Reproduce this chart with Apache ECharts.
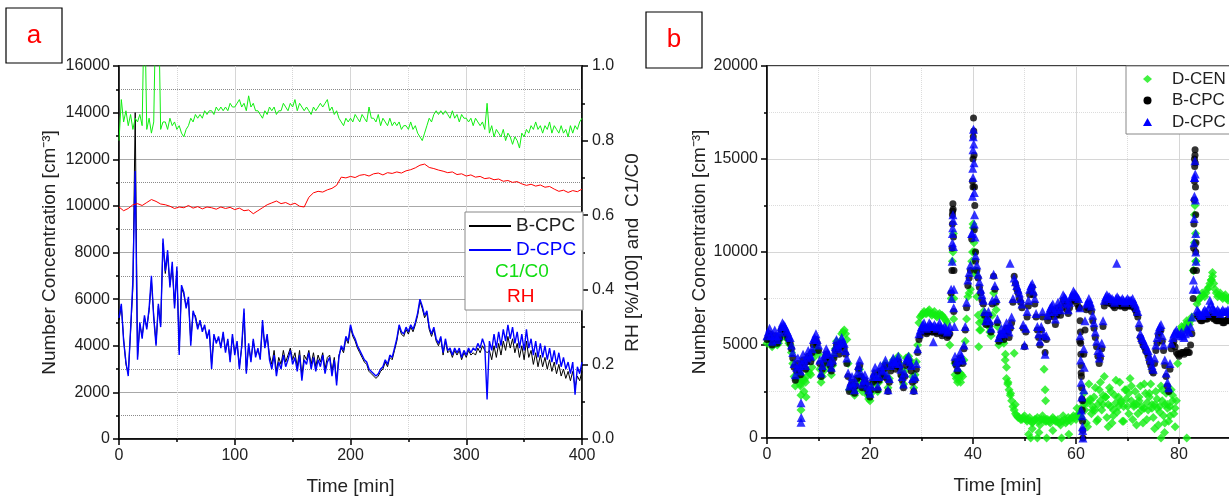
<!DOCTYPE html>
<html><head><meta charset="utf-8">
<script src="https://cdn.jsdelivr.net/npm/echarts/dist/echarts.min.js"></script>
<style>html,body{margin:0;padding:0;background:#fff}#c{width:1229px;height:499px}</style>
</head><body><div id="c"></div>
<script>
// ---------- Panel a (time step 2 min for CPC & C1/C0, 4 min for RH) ----------
const aStep = 2;
const aRHStep = 4;
const aDCPC = [
 5200,5800,4200,3300,2700,4700,6800,11500,3400,5000,
 4300,5300,4700,5600,7000,5200,4000,5800,4800,8600,
 7200,8100,6500,7600,5600,7400,3600,6600,6300,5600,
 6100,4000,5500,5200,4700,5100,4600,4900,4300,4700,
 3000,4500,4100,4400,3900,4600,3700,4300,3300,4500,
 3600,4200,3000,4000,5600,2800,4100,3300,4300,3500,
 3900,3400,5100,3900,4500,3400,3000,3600,2700,3300,
 3000,3600,3100,3400,3800,3200,3500,2900,3600,2500,
 3400,3200,3700,3000,3500,2900,3400,3100,3600,2800,
 3300,3500,2700,3400,2300,3500,4000,3800,4400,4200,
 4900,4500,4300,4000,3800,3600,3400,3300,3000,2900,
 2800,2700,2800,3000,3100,3400,3200,3600,3500,3900,
 4300,4900,4600,4500,4800,4600,4900,4700,5000,5400,
 6000,5700,5300,5500,4800,4500,4800,4300,4100,4400,
 3700,4300,3800,3900,3600,3900,3700,3900,3500,3800,
 3600,3900,3700,3900,3800,4100,3900,4300,4000,1700,
 4200,3800,4500,3900,4600,4000,4700,4200,4900,4300,
 4800,4100,4600,3900,4500,3800,4700,3900,4300,3600,
 4200,3500,4100,3500,4000,3400,3900,3300,3800,3200,
 3700,3100,3500,3000,3300,2800,3300,1900,3100,2800,
 3300
];
const aBCPC = [
 5100,5700,4300,3200,2800,4600,6500,14000,3500,4900,
 4400,5200,4800,5500,6800,5300,4100,5700,4900,8400,
 7100,7900,6600,7400,5700,7200,3800,6500,6200,5700,
 6000,4200,5400,5300,4800,5000,4700,4800,4400,4600,
 3200,4400,4200,4300,4000,4500,3800,4200,3400,4400,
 3700,4100,3100,3900,5400,2900,4000,3400,4200,3600,
 3800,3500,4900,4000,4400,3600,3200,3800,2900,3500,
 3200,3800,3300,3600,3900,3400,3700,3100,3800,2700,
 3600,3400,3800,3200,3700,3100,3600,3300,3700,3000,
 3500,3600,2900,3500,2500,3600,3900,3700,4300,4100,
 4800,4400,4200,3900,3700,3500,3300,3200,2900,2800,
 2700,2600,2700,2900,3000,3300,3100,3500,3400,3800,
 4200,4800,4500,4400,4700,4500,4800,4600,4900,5300,
 5900,5600,5200,5400,4700,4400,4700,4200,4000,4300,
 3600,4200,3700,3800,3500,3800,3600,3800,3400,3700,
 3500,3800,3600,3700,3600,3900,3700,4000,3800,3700,
 3800,3400,4000,3500,4100,3600,4200,3800,4400,3900,
 4300,3700,4100,3500,4000,3400,4200,3500,3800,3200,
 3700,3100,3600,3100,3500,3000,3400,2900,3300,2800,
 3200,2700,3000,2600,2900,2500,2900,2200,2700,2500,
 2900
];
const aC1C0 = [
 0.80,0.91,0.85,0.88,0.84,0.87,0.83,0.86,0.85,0.87,
 0.84,1.20,0.83,0.86,0.82,0.85,1.20,1.20,0.83,0.85,
 0.85,0.83,0.86,0.84,0.85,0.83,0.84,0.82,0.81,0.83,
 0.84,0.86,0.85,0.87,0.86,0.87,0.86,0.88,0.87,0.88,
 0.88,0.87,0.89,0.88,0.89,0.88,0.89,0.88,0.90,0.89,
 0.89,0.90,0.91,0.89,0.90,0.88,0.92,0.89,0.90,0.88,
 0.88,0.87,0.86,0.88,0.87,0.89,0.88,0.89,0.87,0.88,
 0.88,0.90,0.89,0.88,0.90,0.89,0.91,0.88,0.90,0.89,
 0.88,0.89,0.88,0.87,0.89,0.88,0.89,0.90,0.89,0.90,
 0.91,0.88,0.89,0.87,0.88,0.86,0.85,0.84,0.86,0.85,
 0.86,0.85,0.87,0.86,0.85,0.87,0.86,0.85,0.89,0.86,
 0.86,0.85,0.87,0.84,0.86,0.85,0.84,0.86,0.84,0.85,
 0.84,0.85,0.83,0.84,0.84,0.83,0.85,0.83,0.84,0.82,
 0.81,0.80,0.82,0.84,0.86,0.85,0.87,0.88,0.87,0.88,
 0.87,0.88,0.87,0.86,0.88,0.86,0.87,0.85,0.87,0.86,
 0.86,0.85,0.86,0.84,0.86,0.85,0.84,0.85,0.83,0.90,
 0.82,0.84,0.81,0.83,0.82,0.81,0.83,0.80,0.82,0.81,
 0.79,0.81,0.80,0.78,0.82,0.81,0.83,0.82,0.84,0.83,
 0.85,0.83,0.84,0.82,0.84,0.83,0.85,0.82,0.84,0.83,
 0.82,0.84,0.82,0.83,0.81,0.84,0.82,0.84,0.83,0.85,
 0.86
];
const aRH = [
 0.622,0.612,0.618,0.628,0.631,0.626,0.634,0.642,0.637,0.630,
 0.628,0.624,0.618,0.622,0.620,0.626,0.619,0.623,0.617,0.622,
 0.620,0.616,0.622,0.618,0.621,0.615,0.619,0.612,0.614,0.604,
 0.612,0.620,0.628,0.633,0.638,0.631,0.634,0.628,0.632,0.624,
 0.622,0.648,0.660,0.664,0.662,0.668,0.672,0.680,0.702,0.700,
 0.704,0.701,0.707,0.709,0.705,0.711,0.713,0.708,0.714,0.712,
 0.716,0.713,0.719,0.722,0.727,0.734,0.737,0.728,0.725,0.721,
 0.718,0.714,0.716,0.709,0.711,0.705,0.708,0.702,0.704,0.698,
 0.700,0.695,0.697,0.691,0.693,0.688,0.690,0.684,0.680,0.683,
 0.678,0.681,0.675,0.677,0.670,0.664,0.667,0.661,0.666,0.663,
 0.670
];

// ---------- Panel b (main samples every 0.5 min from 0, second layer every 0.5 min from 0.25) ----------
const bStep = 0.5;
const bMidStart = 0.25;
const bDCEN = [
 5100,5400,4900,5300,5000,5300,5800,5600,5300,5000,
 4000,2800,3500,2900,3200,3000,3600,3400,4300,4900,
 4500,3000,3600,4200,4000,3400,4400,5200,4900,5600,
 5800,5300,2600,2800,2300,3000,3700,2500,2900,2300,
 2000,2900,3300,2500,3500,3400,4000,2700,3800,4200,
 4100,4400,3700,2900,4300,4400,4000,2700,4100,6200,
 6600,6800,6700,6900,6600,6800,6500,6700,6600,6400,
 6200,5000,9500,3400,3000,3500,3300,5200,7600,8000,
 11500,8800,6600,5800,6800,6300,6000,5500,7800,6900,
 5000,5400,5100,3200,2600,2000,1500,1200,1100,1000,
 1200,900,1100,800,1000,1100,700,1200,900,1000,
 800,1100,900,1000,700,1200,800,1100,900,1200,
 1000,1300,1100,2400,800,2900,1300,2200,900,2600,
 1500,3300,1100,2700,800,2300,1400,3000,900,2600,
 1700,3200,1000,2500,1300,2800,800,2400,1500,2900,
 1100,2500,700,2800,1200,2400,900,2600,1300,2000,
 5600,6000,5900,6300,6100,6500,12000,7200,7500,7800,
 7600,8000,8300,8700,8000,7600,7800,7500,7700,7400,
 7600
];
const bDCENMid = [
 5300,5100,5100,5100,5100,5500,5700,5400,5100,4600,
 3300,3100,3200,3100,3100,3300,3500,3800,4600,4700,
 3700,3300,3900,4100,3700,3900,4800,5000,5200,5700,
 5600,4000,2700,2500,2600,3300,3100,2700,2600,2100,
 2400,3100,2900,3000,3400,3700,3300,3200,4000,4100,
 4200,4000,3300,3600,4300,4200,3300,3400,5000,6500,
 6700,6700,6800,6700,6700,6600,6600,6600,6500,6300,
 5600,7500,6400,3200,3200,3400,4200,6400,7800,9500,
 10000,7600,6200,6300,6500,6100,5700,6600,7300,6000,
 5200,5200,4200,2900,2300,1700,1300,1100,1000,1100,
 1000,1000,900,900,1000,900,1000,1000,900,900,
 1000,1000,900,800,900,1000,900,1000,1100,1100,
 1200,1200,1700,1500,1900,2000,1700,1500,1800,2000,
 2300,2200,1800,1700,1500,1900,2200,1900,1700,2100,
 2400,2000,1700,1800,2000,1700,1600,1900,2200,1800,
 1800,1600,1700,2000,1800,1600,1700,2000,1600,4000,
 5800,5900,6100,6200,6300,9000,9500,7400,7600,7700,
 7800,8100,8500,8300,7800,7700,7600,7600,7500,7500
];
const bBCPC = [
 5300,5600,5000,5500,5100,5400,5900,5700,5400,5100,
 4300,3100,4000,3400,4200,3700,4400,4100,5000,5300,
 4700,3300,4000,4500,4200,3600,4300,5000,4500,5100,
 4800,4000,2500,3000,2400,3200,3900,2700,3100,2600,
 2200,3000,3500,2600,3600,3300,3900,2500,3600,4000,
 3700,4100,3400,2700,3900,4100,3600,2500,3700,5300,
 5700,5900,5600,5800,5700,5800,5600,5900,5500,5700,
 5400,5600,12000,4100,3600,4300,4000,5800,8200,9000,
 13500,9500,8600,7800,7200,6100,6600,5700,8700,7300,
 5200,5600,5300,5900,5400,6200,8700,8000,7500,7000,
 4900,6500,7700,8100,7200,5800,5000,6500,4600,6300,
 6700,6900,6100,7000,6600,7400,7200,6700,7300,7600,
 7400,7000,3500,4500,6900,7200,6800,5900,4900,4000,
 4800,7100,7400,7300,7200,7000,7300,7100,7200,7000,
 7200,7100,7200,6900,6500,5400,5000,4700,4400,3900,
 3500,4700,5500,5800,4700,3300,2500,4800,5200,4600,
 4400,4600,4500,4700,4600,5600,15000,6600,6400,6300,
 6500,6400,6600,6500,6400,6300,6400,6200,6300,6400,
 6300
];
const bBCPCMid = [
 5500,5300,5300,5300,5300,5800,5900,5600,5300,4800,
 3800,3600,3700,3800,4000,4100,4300,4600,5200,5100,
 4000,3700,4300,4400,3900,4000,4700,4800,4900,5000,
 4500,3300,2800,2700,2800,3700,3300,2900,2900,2400,
 2600,3300,3100,3100,3500,3700,3200,3000,3900,3900,
 4000,3800,3100,3300,4100,3900,3000,3100,4600,5500,
 5800,5700,5700,5800,5700,5700,5700,5700,5600,5600,
 5500,7800,6800,3900,4000,4200,4800,7000,8600,10700,
 11200,9000,8100,7400,6600,6300,6100,7200,8000,6200,
 5400,5500,5700,5700,5900,7300,8300,7800,7300,5900,
 5700,7100,7900,7700,6500,5400,5800,5400,5300,6500,
 6800,6500,6600,6800,7000,7300,6900,7000,7400,7500,
 7200,5200,2000,5800,7000,7000,6300,5400,4400,4300,
 6000,7300,7300,7200,7100,7200,7200,7100,7100,7100,
 7100,7100,7000,6700,5900,5200,4900,4600,4100,3600,
 4000,5100,5700,5200,3900,2800,3700,5000,4900,4500,
 4500,4600,4600,4600,5000,7500,10000,6500,6300,6400,
 6400,6500,6500,6400,6300,6300,6300,6200,6300,6300
];
const bDCPC = [
 5500,5900,5200,5800,5300,5700,6200,6000,5700,5400,
 4600,3400,4300,3600,4500,3900,4700,4400,5300,5600,
 5000,3500,4300,4800,4500,3800,4600,5300,4800,5400,
 5100,4300,2800,3300,2600,3500,4200,2900,3400,2800,
 2400,3300,3800,2800,3900,3600,4200,2600,3900,4300,
 4000,4400,3700,2900,4200,4400,3900,2600,4000,5600,
 6000,6200,5900,6200,6000,6100,5900,6200,5800,6000,
 5700,6000,11000,4400,3800,4600,4200,6000,8500,9300,
 14000,9800,8800,8000,7400,6300,6800,5900,8800,7500,
 5400,5900,5600,6200,5700,6500,8600,8200,7800,7200,
 5000,6800,8000,8300,7500,6000,5200,6800,4500,6600,
 7000,7200,6400,7300,6900,7700,7500,6900,7600,7900,
 7700,7500,1500,4800,7200,7500,7100,6200,5200,4300,
 5100,7400,7700,7600,7500,7300,7600,7400,7500,7300,
 7500,7400,7500,7200,6800,5600,5300,5000,4700,4200,
 3700,5000,5800,6100,5000,3500,2700,5100,5600,5800,
 5500,5700,5400,5900,5700,6500,14000,6900,6700,6600,
 6900,6700,7400,7000,6800,6900,6700,6900,6800,6900,
 6700
];
const bDCPCMid = [
 5700,5500,5500,5500,5500,6000,6100,5800,5500,5000,
 4000,3800,3900,4000,4200,4300,4500,4800,5400,5300,
 4200,3900,4500,4600,4100,4200,4900,5000,5100,5200,
 4700,3500,3000,2900,3000,3900,3500,3100,3100,2600,
 2800,3500,3300,3300,3700,3900,3400,3200,4100,4100,
 4200,4000,3300,3500,4300,4100,3200,3300,4800,5800,
 6100,6000,6000,6100,6000,6000,6000,6000,5900,5900,
 5800,8000,7000,4100,4200,4400,5000,7300,8900,11000,
 11500,9300,8400,7700,6800,6500,6300,7400,8200,6400,
 5600,5700,5900,5900,6100,7500,8400,8000,7500,6100,
 5900,7400,8200,7900,6700,5600,6000,5600,5500,6800,
 7100,6800,6900,7100,7300,7600,7200,7300,7700,7800,
 7600,7000,600,6300,7300,7300,6600,5700,4700,4600,
 6300,7600,7600,7500,7400,7500,7500,7400,7400,7400,
 7400,7400,7300,7000,6200,5400,5100,4800,4400,3900,
 4300,5400,6000,5500,4200,3000,4000,5400,5700,5600,
 5600,5500,5600,5800,6000,8000,10000,6800,6600,6800,
 6800,7000,7200,6900,6800,6800,6800,6800,6800,6800
];
// third layer of the dense D-CEN cloud (times 61.75, 62.25, ...)
const bCloudStart = 61.75;
const bDCENCloud = [
 1900,600,2100,1500,2700,1000,3000,1800,2200,600,
 2500,1200,3100,1700,2000,900,2600,1300,2800,1800,
 700,2200,1500,2900,1000,2400,1600,500,2100,1400,
 2600,800,1800,1200,2300,600
];
// extra samples in spikes / drops / outliers: [time, value]
const bDCENExtra = [
 [6.5,2800],[6.6,2300],[6.6,1500],[7.2,2500],[7.6,2200],
 [36.1,10000],[36.2,11000],[36.3,7500],[36.5,4000],[37.2,3300],[37.6,3000],
 [39.9,10000],[40.05,11300],[40.2,10500],[40.4,9000],[41.1,4900],[41.3,5800],
 [46.3,4500],[46.5,3800],[46.8,3000],[47.3,2400],[48,4550],[48.2,1800],
 [50.8,200],[51.2,0],[51.5,500],[52.5,0],[52.8,300],[53.8,3700],[54,2600],
 [54.1,2000],[54.2,1000],[54.3,0],[55.5,400],[57.2,0],[58.6,200],[60.2,1600],
 [76.5,0],[77.2,300],[81.5,0],
 [82.9,9000],[83.0,10500],[83.1,12500],[83.2,11000],[83.3,9500],[86.3,8500],[86.5,8900]
];
const bBCPCExtra = [
 [35.9,9000],[35.95,10200],[36.0,11500],[36.05,12200],[36.1,12600],[36.15,12300],[36.2,10800],[36.3,9000],
 [39.9,13800],[40.0,15000],[40.05,16200],[40.1,17200],[40.15,16500],[40.2,15200],[40.3,13500],[40.35,12500],[40.5,10000],
 [60.7,7000],[60.8,6300],[60.85,5700],[60.9,5100],[60.95,4500],[61.0,3900],[61.05,3300],[61.1,2700],
 [61.15,2100],[61.2,1500],[61.25,900],[61.3,400],[61.35,0],
 [82.8,9000],[82.85,10200],[82.9,11500],[82.95,12800],[83.0,13800],[83.05,14600],[83.1,15200],[83.12,15500],
 [83.15,14800],[83.2,13500],[83.25,12000],[83.3,10500],[83.4,9000]
];
const bDCPCExtra = [
 [6.6,1900],[6.6,850],[6.65,1100],[32.3,5180],
 [35.85,7500],[35.95,9500],[36.0,10500],[36.05,11300],[36.1,12000],[36.15,11700],[36.2,10300],[36.3,8000],[36.4,6000],
 [39.8,11000],[39.9,13000],[39.95,14500],[40.0,15500],[40.05,16200],[40.1,16600],[40.15,15800],[40.2,14800],
 [40.25,13200],[40.3,12000],[40.4,10800],[47.2,9400],
 [60.8,5500],[60.9,4200],[61.0,3000],[61.1,2200],[61.2,1200],[61.3,400],[61.35,0],[61.5,2600],[61.6,3800],
 [67.9,9390],
 [82.8,8500],[82.9,10500],[82.95,11800],[83.0,13000],[83.05,14000],[83.1,14900],[83.15,14200],[83.2,12800],
 [83.25,11000],[83.3,9500],[83.4,8000]
];

// ---------- build ----------
const FONT = '"Liberation Sans", Arial, Helvetica, sans-serif';
function toPairs(vals, step, start) { return vals.map((v, i) => [start + i * step, v]); }
const plain = v => String(v);

const axisLine = {lineStyle: {color: '#000', width: 1.5}};
const tickStyle = {color: '#000', width: 1.5};
const labelStyle = {fontSize: 16, color: '#222', fontFamily: FONT, formatter: plain};
const nameStyle = {fontSize: 19, color: '#222', fontFamily: FONT};

const chart = echarts.init(document.getElementById('c'));
chart.setOption({
  animation: false,
  backgroundColor: '#fff',
  textStyle: {fontFamily: FONT},
  grid: [
    {left: 119, top: 66, width: 463, height: 373, outerBoundsMode: 'none', containLabel: false,
     show: true, borderColor: '#000', borderWidth: 1.5, backgroundColor: 'transparent'},
    {left: 767, top: 66, width: 515, height: 372, outerBoundsMode: 'none', containLabel: false,
     show: true, borderColor: '#000', borderWidth: 1.5, backgroundColor: 'transparent'}
  ],
  xAxis: [
    {gridIndex: 0, type: 'value', min: 0, max: 400, interval: 100,
     axisLine: Object.assign({onZero: false}, axisLine),
     axisTick: {length: 6, lineStyle: tickStyle},
     minorTick: {show: true, splitNumber: 2, length: 3, lineStyle: tickStyle},
     axisLabel: Object.assign({margin: 9}, labelStyle),
     splitLine: {show: true, lineStyle: {color: '#d6d6d6', width: 1}},
     minorSplitLine: {show: true, lineStyle: {color: '#d6d6d6', width: 1, type: 'dotted'}},
     name: 'Time [min]', nameLocation: 'middle', nameGap: 38, nameTextStyle: nameStyle},
    {gridIndex: 1, type: 'value', min: 0, max: 100, interval: 20,
     axisLine: Object.assign({onZero: false}, axisLine),
     axisTick: {length: 6, lineStyle: tickStyle},
     minorTick: {show: true, splitNumber: 2, length: 3, lineStyle: tickStyle},
     axisLabel: Object.assign({margin: 9}, labelStyle),
     splitLine: {show: true, lineStyle: {color: '#d6d6d6', width: 1}},
     minorSplitLine: {show: true, lineStyle: {color: '#dcdcdc', width: 1, type: 'dotted'}},
     name: 'Time [min]', nameLocation: 'middle', nameGap: 38,
     nameTextStyle: Object.assign({padding: [0, 54, 0, 0]}, nameStyle)}
  ],
  yAxis: [
    {gridIndex: 0, type: 'value', min: 0, max: 16000, interval: 2000, position: 'left',
     axisLine: Object.assign({onZero: false}, axisLine),
     axisTick: {length: 6, lineStyle: tickStyle},
     minorTick: {show: true, splitNumber: 2, length: 3, lineStyle: tickStyle},
     axisLabel: Object.assign({margin: 9}, labelStyle),
     splitLine: {show: true, lineStyle: {color: '#a8a8a8', width: 1}},
     minorSplitLine: {show: true, lineStyle: {color: '#8a8a8a', width: 1, type: 'dotted'}},
     name: 'Number Concentration [cm⁻³]', nameLocation: 'middle', nameGap: 60, nameTextStyle: nameStyle},
    {gridIndex: 0, type: 'value', min: 0, max: 1, interval: 0.2, position: 'right',
     axisLine: Object.assign({show: true, onZero: false}, axisLine),
     axisTick: {length: 6, lineStyle: tickStyle},
     minorTick: {show: true, splitNumber: 2, length: 3, lineStyle: tickStyle},
     axisLabel: Object.assign({}, labelStyle, {margin: 10, formatter: v => v.toFixed(1)}),
     splitLine: {show: false}, minorSplitLine: {show: false},
     name: 'RH [%/100] and  C1/C0', nameLocation: 'middle', nameGap: 41, nameRotate: 90, nameTextStyle: nameStyle},
    {gridIndex: 1, type: 'value', min: 0, max: 20000, interval: 5000, position: 'left',
     axisLine: Object.assign({onZero: false}, axisLine),
     axisTick: {length: 6, lineStyle: tickStyle},
     minorTick: {show: true, splitNumber: 2, length: 3, lineStyle: tickStyle},
     axisLabel: Object.assign({margin: 9}, labelStyle),
     splitLine: {show: true, lineStyle: {color: '#d6d6d6', width: 1}},
     minorSplitLine: {show: true, lineStyle: {color: '#dcdcdc', width: 1, type: 'dotted'}},
     name: 'Number Concentration [cm⁻³]', nameLocation: 'middle', nameGap: 58, nameTextStyle: nameStyle}
  ],
  legend: [
    {orient: 'vertical', left: 468, top: 216, padding: 0, itemWidth: 42, itemHeight: 1, itemGap: 4, z: 10,
     textStyle: {fontSize: 19, lineHeight: 20, color: '#222', fontFamily: FONT},
     data: [{name: 'B-CPC', textStyle: {color: '#222'}}, {name: 'D-CPC', textStyle: {color: '#0000ff'}}]},
    {orient: 'vertical', left: 489, top: 262, padding: 0, itemWidth: 1, itemHeight: 1, z: 10,
     textStyle: {fontSize: 19, lineHeight: 20, fontFamily: FONT},
     data: [{name: 'C1/C0', icon: 'rect', itemStyle: {color: 'rgba(255,255,255,0)'}, textStyle: {color: '#11dd11'}}]},
    {orient: 'vertical', left: 501, top: 287, padding: 0, itemWidth: 1, itemHeight: 1, z: 10,
     textStyle: {fontSize: 19, lineHeight: 20, fontFamily: FONT},
     data: [{name: 'RH', icon: 'rect', itemStyle: {color: 'rgba(255,255,255,0)'}, textStyle: {color: '#ff0000'}}]},
    {orient: 'vertical', left: 1126, top: 66, padding: [4.5, 12, 3.5, 17], itemWidth: 9, itemHeight: 8, itemGap: 4.5, z: 10,
     backgroundColor: '#fff', borderColor: '#888', borderWidth: 1,
     formatter: n => '{p|}' + n,
     textStyle: {fontSize: 17, lineHeight: 17, color: '#222', fontFamily: FONT, rich: {p: {width: 15, lineHeight: 17}}},
     data: [{name: 'D-CEN', icon: 'diamond'}, {name: 'B-CPC', icon: 'circle'}, {name: 'D-CPC', icon: 'triangle'}]}
  ],
  graphic: [
    {type: 'rect', z: 5, shape: {x: 6, y: 8, width: 56, height: 55}, style: {fill: '#fff', stroke: '#000', lineWidth: 1.2}},
    {type: 'text', z: 6, x: 34, y: 36, style: {text: 'a', fill: '#ff0000', fontSize: 26, fontFamily: FONT, align: 'center', verticalAlign: 'middle'}},
    {type: 'rect', z: 5, shape: {x: 646, y: 12, width: 56, height: 56}, style: {fill: '#fff', stroke: '#000', lineWidth: 1.2}},
    {type: 'text', z: 6, x: 674, y: 40, style: {text: 'b', fill: '#ff0000', fontSize: 26, fontFamily: FONT, align: 'center', verticalAlign: 'middle'}},
    {type: 'rect', z: 5, shape: {x: 465, y: 212, width: 118, height: 98}, style: {fill: '#fff', stroke: '#888', lineWidth: 1}}
  ],
  series: [
    {name: 'B-CPC', type: 'line', xAxisIndex: 0, yAxisIndex: 0, symbol: 'none', color: '#000',
     lineStyle: {width: 1, color: '#000'}, data: toPairs(aBCPC, aStep, 0)},
    {name: 'D-CPC', type: 'line', xAxisIndex: 0, yAxisIndex: 0, symbol: 'none', color: '#0000ff',
     lineStyle: {width: 1.4, color: '#0000ff'}, data: toPairs(aDCPC, aStep, 0)},
    {name: 'C1/C0', type: 'line', xAxisIndex: 0, yAxisIndex: 1, symbol: 'none', color: '#11ee11',
     lineStyle: {width: 1, color: '#11ee11'}, data: toPairs(aC1C0, aStep, 0)},
    {name: 'RH', type: 'line', xAxisIndex: 0, yAxisIndex: 1, symbol: 'none', color: '#ff0000',
     lineStyle: {width: 1, color: '#ff0000'}, data: toPairs(aRH, aRHStep, 0)},
    {name: 'D-CEN', type: 'scatter', xAxisIndex: 1, yAxisIndex: 2, symbol: 'diamond', symbolSize: 9, color: '#11ee11',
     data: toPairs(bDCEN, bStep, 0).concat(toPairs(bDCENMid, bStep, bMidStart), toPairs(bDCENCloud, bStep, bCloudStart), bDCENExtra)},
    {name: 'B-CPC', type: 'scatter', xAxisIndex: 1, yAxisIndex: 2, symbol: 'circle', symbolSize: 7, color: '#000',
     data: toPairs(bBCPC, bStep, 0).concat(toPairs(bBCPCMid, bStep, bMidStart), bBCPCExtra)},
    {name: 'D-CPC', type: 'scatter', xAxisIndex: 1, yAxisIndex: 2, symbol: 'triangle', symbolSize: 9, color: '#0000ff',
     data: toPairs(bDCPC, bStep, 0).concat(toPairs(bDCPCMid, bStep, bMidStart), bDCPCExtra)}
  ]
});
</script>
</body></html>
